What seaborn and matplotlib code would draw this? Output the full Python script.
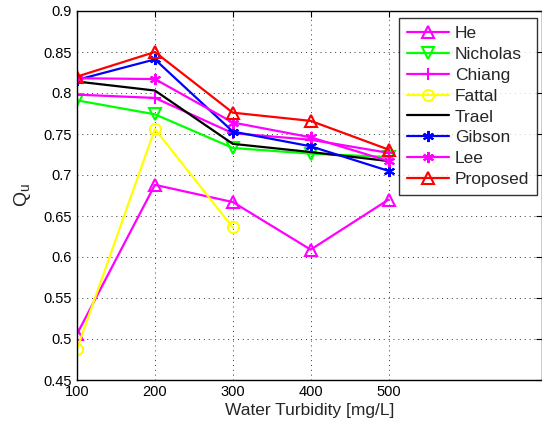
import numpy as np
import pandas as pd
import matplotlib
matplotlib.use("Agg")
import matplotlib.pyplot as plt
import seaborn as sns

# ==========================================
# Data
# ==========================================

turbidity = [100, 200, 300, 400, 500]
fattal_x = [100, 200, 300]

he = [0.506, 0.688, 0.667, 0.609, 0.670]
nicholas = [0.791, 0.774, 0.733, 0.726, 0.722]
chiang = [0.798, 0.794, 0.751, 0.743, 0.727]
fattal = [0.488, 0.756, 0.636]
trael = [0.814, 0.803, 0.738, 0.728, 0.717]
gibson = [0.816, 0.841, 0.753, 0.735, 0.705]
lee = [0.818, 0.817, 0.764, 0.746, 0.717]
proposed = [0.820, 0.850, 0.776, 0.766, 0.731]

x_ticks = [100, 200, 300, 400, 500]
y_ticks = [0.45, 0.5, 0.55, 0.6, 0.65, 0.7, 0.75, 0.8, 0.85, 0.9]
y_tick_labels = ["0.45", "0.5", "0.55", "0.6", "0.65", "0.7", "0.75", "0.8", "0.85", "0.9"]

# ==========================================
# Plot
# ==========================================

sns.set_style("white")
plt.rcParams["font.family"] = ["Liberation Sans", "DejaVu Sans"]
plt.rcParams["mathtext.fontset"] = "custom"
plt.rcParams["mathtext.rm"] = "Liberation Sans"
plt.rcParams["mathtext.it"] = "Liberation Sans"

fig = plt.figure(figsize=(5.42, 4.25), dpi=100)
ax = fig.add_axes([77 / 542, 1 - 380 / 425, 465 / 542, 369 / 425])

asterisk = (6, 2, 0)
series = [
    ("He", turbidity, he, "#ff00ff", "^"),
    ("Nicholas", turbidity, nicholas, "#00ff00", "v"),
    ("Chiang", turbidity, chiang, "#ff00ff", "+"),
    ("Fattal", fattal_x, fattal, "#ffff00", "o"),
    ("Trael", turbidity, trael, "black", None),
    ("Gibson", turbidity, gibson, "#0000ff", asterisk),
    ("Lee", turbidity, lee, "#ff00ff", asterisk),
    ("Proposed", turbidity, proposed, "#ff0000", "^"),
]

for name, xs, ys, col, mk in series:
    sns.lineplot(
        x=xs, y=ys, ax=ax,
        color=col, marker=mk, markersize=8,
        markerfacecolor="none", markeredgecolor=col, markeredgewidth=1.5,
        linewidth=1.6, label=name,
    )

ax.set_xlim(100, 697)
ax.set_ylim(0.45, 0.9)
ax.set_xticks(x_ticks)
ax.set_yticks(y_ticks)
ax.set_yticklabels(y_tick_labels)

ax.grid(True, linestyle=(0, (1, 4)), color="black", linewidth=0.7, alpha=0.8)
ax.tick_params(direction="in", top=True, right=True, length=4, labelsize=10.5, colors="black")
for s in ax.spines.values():
    s.set_color("black")
    s.set_linewidth(1.0)

ax.set_xlabel("Water Turbidity [mg/L]", fontsize=12.5, labelpad=3)
ax.set_ylabel("$Q_u$", fontsize=14, labelpad=8)

leg = ax.legend(loc="upper right", bbox_to_anchor=(0.989, 0.981), borderaxespad=0,
                fontsize=12.5, frameon=True, fancybox=False, edgecolor="black",
                handlelength=2.4, borderpad=0.45, labelspacing=0.33, handletextpad=0.35)
leg.get_frame().set_linewidth(1.0)

fig.savefig("out.png", dpi=100)
